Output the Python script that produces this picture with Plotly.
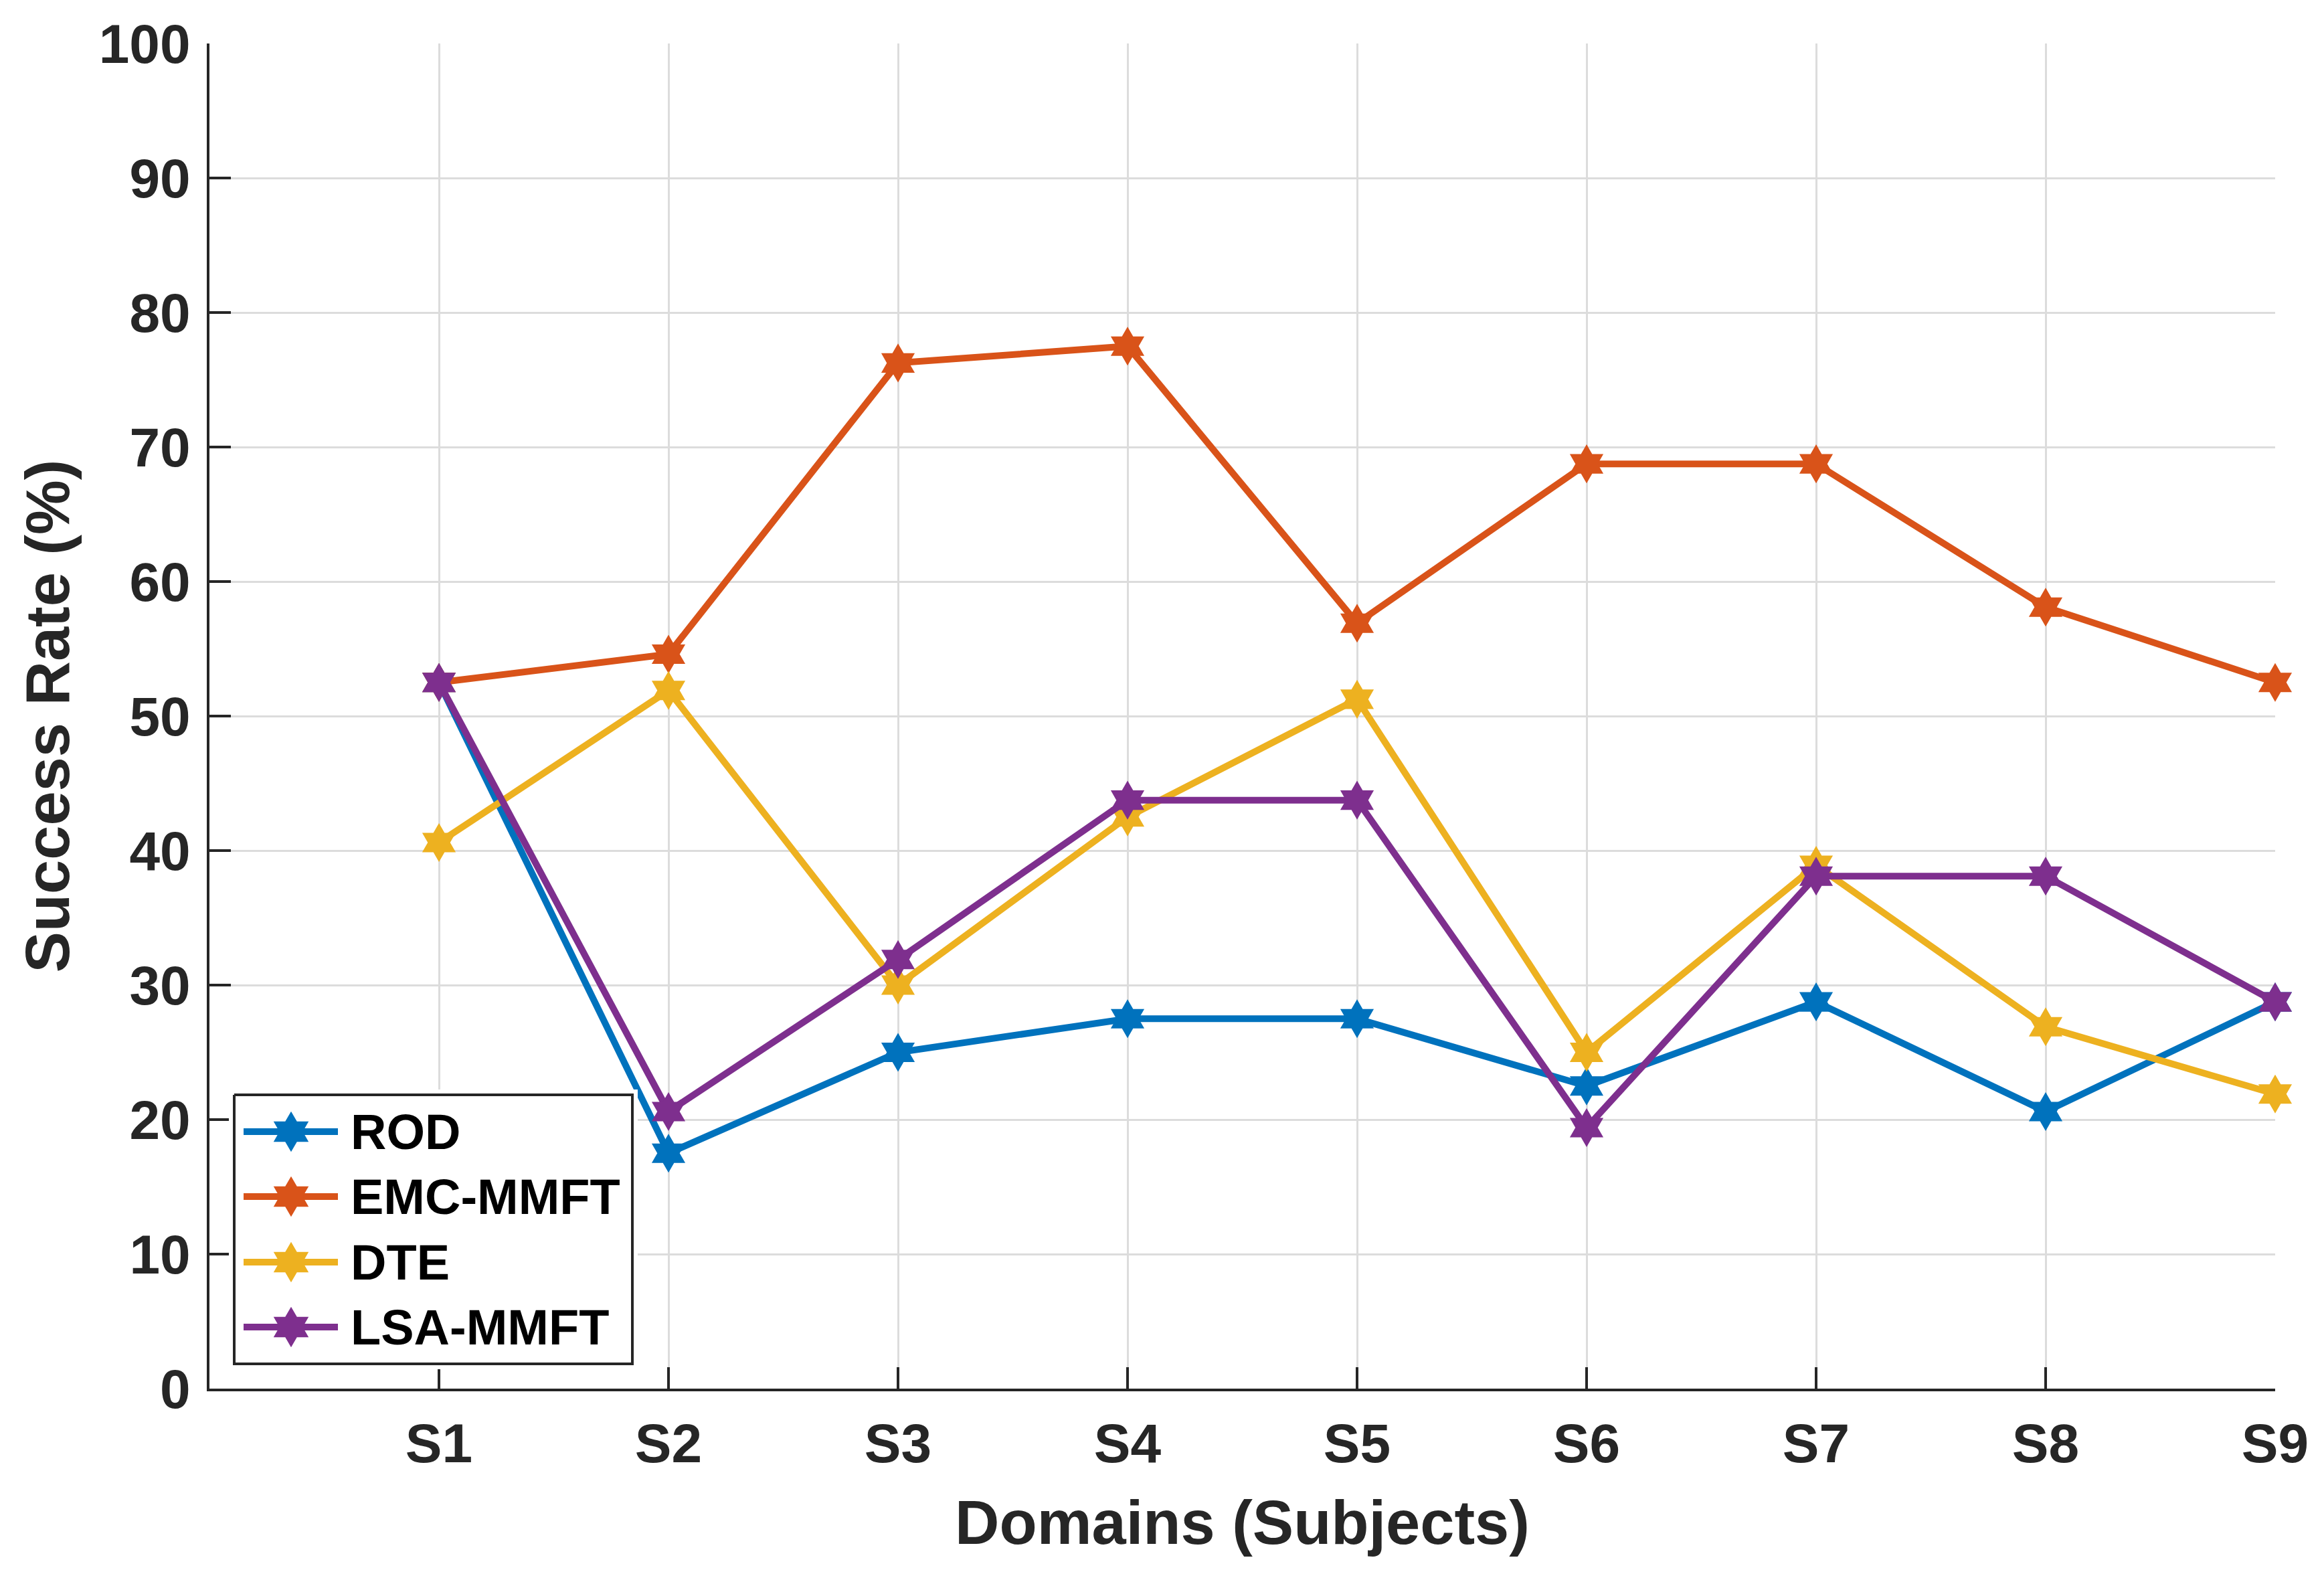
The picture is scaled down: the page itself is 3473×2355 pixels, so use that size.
import plotly.graph_objects as go

subjects = ["S1", "S2", "S3", "S4", "S5", "S6", "S7", "S8", "S9"]
x_pos = [1, 2, 3, 4, 5, 6, 7, 8, 9]
rod = [52.5, 17.5, 25.0, 27.5, 27.5, 22.5, 28.75, 20.6, 28.75]
emc_mmft = [52.5, 54.6, 76.25, 77.5, 56.9, 68.75, 68.75, 58.1, 52.5]
dte = [40.6, 51.9, 30.0, 42.5, 51.25, 25.0, 38.9, 26.9, 21.9]
lsa_mmft = [52.5, 20.6, 31.9, 43.75, 43.75, 19.4, 38.1, 38.1, 28.75]
y_ticks = [0, 10, 20, 30, 40, 50, 60, 70, 80, 90, 100]
series_names = ["ROD", "EMC-MMFT", "DTE", "LSA-MMFT"]
series_colors = ["#0072BD", "#D95319", "#EDB120", "#7E2F8E"]
series_values = [rod, emc_mmft, dte, lsa_mmft]

FONT = "Liberation Sans, Arial, sans-serif"
DARK = "#262626"
W, H = 3473, 2355
ML, MR, MT, MB = 305, 81, 57, 288
# plot area in page pixel units (accounting for 8px page offset)
PL, PR, PT, PB = 313, 3400, 65, 2075
PW, PH = PR - PL, PB - PT

fig = go.Figure()
for name, vals, col in zip(series_names, series_values, series_colors):
    fig.add_trace(go.Scatter(
        x=x_pos, y=vals, name=name, mode="lines+markers",
        line=dict(color=col, width=10),
        marker=dict(symbol="hexagram", size=44, color=col, line=dict(width=0)),
        cliponaxis=False, showlegend=False,
    ))

# ---- custom legend drawn on an overlay axis measured in page pixels ----
LX0, LX1, LY0, LY1 = 342, 953, 1628, 2046   # axis window
BOX = (350, 945, 1636, 2038)               # legend frame
ROW_Y = [1691, 1788, 1886, 1983]
SAMPLE_X = (364, 505)
STAR_X = 435
TEXT_X = 522

fig.add_trace(go.Scatter(
    x=[BOX[0], BOX[1], BOX[1], BOX[0], BOX[0]],
    y=[BOX[2], BOX[2], BOX[3], BOX[3], BOX[2]],
    mode="lines", fill="toself", fillcolor="white",
    line=dict(color=DARK, width=4), xaxis="x2", yaxis="y2",
    showlegend=False, hoverinfo="skip",
))
for name, col, ry in zip(series_names, series_colors, ROW_Y):
    fig.add_trace(go.Scatter(
        x=[SAMPLE_X[0], SAMPLE_X[1]], y=[ry, ry], mode="lines",
        line=dict(color=col, width=10), xaxis="x2", yaxis="y2",
        showlegend=False, hoverinfo="skip",
    ))
    fig.add_trace(go.Scatter(
        x=[STAR_X], y=[ry], mode="markers",
        marker=dict(symbol="hexagram", size=46, color=col, line=dict(width=0)),
        xaxis="x2", yaxis="y2", showlegend=False, hoverinfo="skip",
    ))
    fig.add_annotation(
        x=TEXT_X, y=ry, xref="x2", yref="y2", text=name, showarrow=False,
        xanchor="left", yanchor="middle",
        font=dict(family=FONT, size=74, color="black", weight="bold"),
    )

fig.update_layout(
    width=W, height=H,
    margin=dict(l=ML, r=MR, t=MT, b=MB),
    paper_bgcolor="white", plot_bgcolor="white",
    font=dict(family=FONT, color=DARK, size=82, weight="bold"),
    showlegend=False,
    xaxis2=dict(domain=[(LX0 - PL) / PW, (LX1 - PL) / PW], range=[LX0, LX1],
                visible=False, anchor="y2", fixedrange=True),
    yaxis2=dict(domain=[(PB - LY1) / PH, (PB - LY0) / PH], range=[LY1, LY0],
                visible=False, anchor="x2", fixedrange=True),
)
fig.update_layout(
    xaxis=dict(
        range=[0, 9], tickmode="array", tickvals=x_pos, ticktext=subjects,
        showgrid=True, gridcolor="#dcdcdc", gridwidth=3,
        showline=True, linecolor=DARK, linewidth=4, mirror=False,
        ticks="inside", ticklen=32, tickwidth=4, tickcolor=DARK,
        tickfont=dict(family=FONT, size=82, color=DARK, weight="bold"),
        ticklabelstandoff=8,
        title=dict(text="Domains (Subjects)", font=dict(family=FONT, size=92, color=DARK, weight="bold"), standoff=42),
        zeroline=False, domain=[0, 1],
    ),
    yaxis=dict(
        range=[0, 100], tickmode="array", tickvals=y_ticks,
        showgrid=True, gridcolor="#dcdcdc", gridwidth=3,
        showline=True, linecolor=DARK, linewidth=4, mirror=False,
        ticks="inside", ticklen=32, tickwidth=4, tickcolor=DARK,
        tickfont=dict(family=FONT, size=82, color=DARK, weight="bold"),
        ticklabelstandoff=8,
        title=dict(text="Success Rate (%)", font=dict(family=FONT, size=92, color=DARK, weight="bold"), standoff=15),
        zeroline=False, domain=[0, 1],
    ),
)

fig.write_html("out.html")
